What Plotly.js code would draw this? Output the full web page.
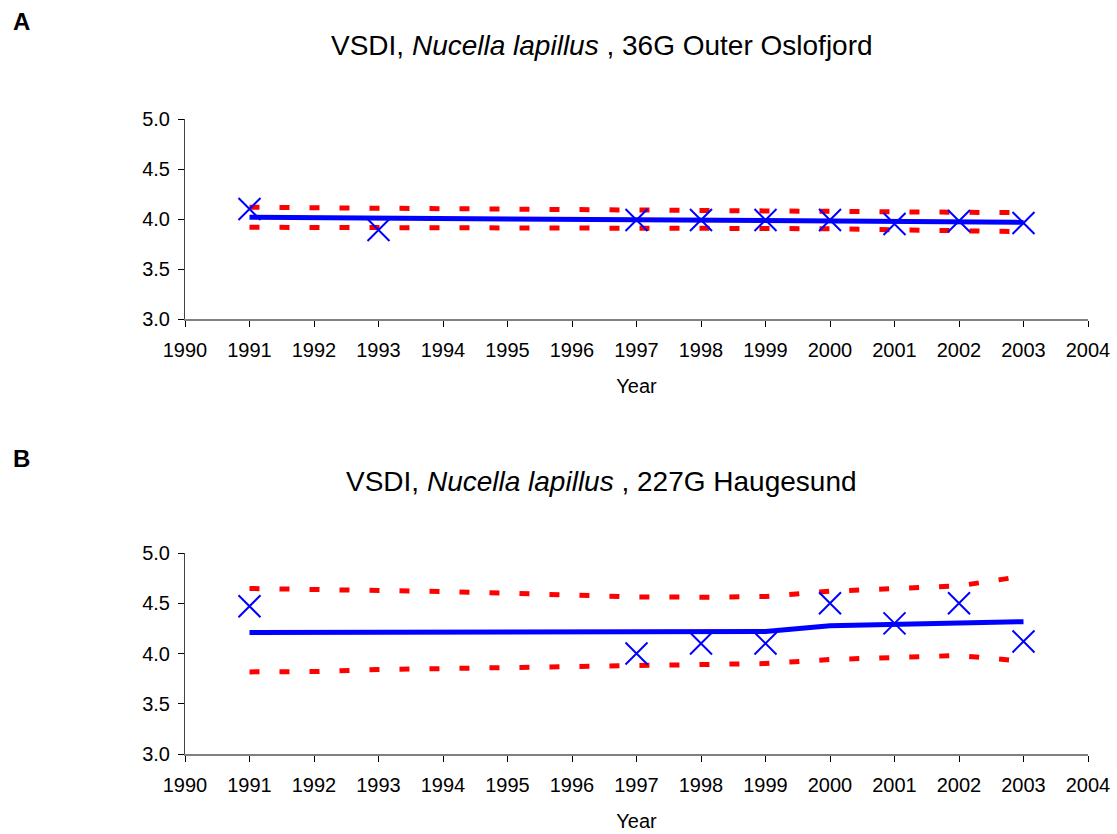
<!DOCTYPE html>
<html>
<head>
<meta charset="utf-8">
<script src="https://cdn.plot.ly/plotly-3.0.1.min.js"></script>
<style>html,body{margin:0;padding:0;background:#fff;}#chart{width:1117px;height:834px;}</style>
</head>
<body>
<div id="chart"></div>
<script>
// Panel A: 36G Outer Oslofjord
const yearsAll = [1991,1992,1993,1994,1995,1996,1997,1998,1999,2000,2001,2002,2003];
const obsYearsA = [1991,1993,1997,1998,1999,2000,2001,2002,2003];
const obsA = [4.10,3.89,3.99,3.99,3.99,3.99,3.95,3.98,3.96];
const trendA = [4.017,4.013,4.008,4.004,4.000,3.996,3.992,3.988,3.984,3.980,3.976,3.971,3.967];
const upperA = [4.117,4.113,4.108,4.104,4.100,4.096,4.092,4.088,4.084,4.080,4.074,4.068,4.063];
const lowerA = [3.917,3.917,3.916,3.915,3.914,3.913,3.912,3.908,3.905,3.902,3.895,3.885,3.873];

// Panel B: 227G Haugesund
const obsYearsB = [1991,1997,1998,1999,2000,2001,2002,2003];
const obsB = [4.47,4.00,4.10,4.10,4.50,4.30,4.50,4.12];
const trendB = [4.21,4.21,4.21,4.21,4.21,4.21,4.21,4.212,4.22,4.275,4.29,4.31,4.317];
const upperB = [4.647,4.640,4.630,4.617,4.600,4.583,4.563,4.560,4.567,4.620,4.647,4.673,4.770];
const lowerB = [3.817,3.820,3.840,3.850,3.857,3.870,3.880,3.883,3.900,3.940,3.957,3.980,3.923];

const xTicks = [1990,1991,1992,1993,1994,1995,1996,1997,1998,1999,2000,2001,2002,2003,2004];
const yTicks = [3.0,3.5,4.0,4.5,5.0];

const blue = '#0000FF', red = '#FF0000';
const FONT = 'Liberation Sans, Arial, sans-serif';

function band(x, y, xa, ya) {
  return {x:x, y:y, xaxis:xa, yaxis:ya, mode:'lines', type:'scatter',
    line:{color:red, width:5, dash:'10px,20px'}, hoverinfo:'skip', showlegend:false};
}
function trend(x, y, xa, ya) {
  return {x:x, y:y, xaxis:xa, yaxis:ya, mode:'lines', type:'scatter',
    line:{color:blue, width:5}, showlegend:false};
}
function obs(x, y, xa, ya) {
  return {x:x, y:y, xaxis:xa, yaxis:ya, mode:'markers', type:'scatter',
    marker:{symbol:'x-thin-open', size:22, color:blue, line:{color:blue, width:2}}, showlegend:false};
}

const data = [
  band(yearsAll, upperA, 'x', 'y'), band(yearsAll, lowerA, 'x', 'y'),
  trend(yearsAll, trendA, 'x', 'y'), obs(obsYearsA, obsA, 'x', 'y'),
  band(yearsAll, upperB, 'x2', 'y2'), band(yearsAll, lowerB, 'x2', 'y2'),
  trend(yearsAll, trendB, 'x2', 'y2'), obs(obsYearsB, obsB, 'x2', 'y2')
];

function xax(anchor, dom) {
  return {domain:dom, anchor:anchor, range:[1990,2004], tickmode:'array', tickvals:xTicks,
    ticktext:xTicks.map(String), ticks:'outside', ticklen:6, tickcolor:'#000', tickwidth:1,
    ticklabelstandoff:6,
    showline:true, linecolor:'#808080', linewidth:2, showgrid:false, zeroline:false,
    tickfont:{family:FONT, size:20, color:'#000'},
    title:{text:'Year', font:{family:FONT, size:20, color:'#000'}, standoff:19}};
}
function yax(anchor, dom) {
  return {domain:dom, anchor:anchor, range:[3,5], tickmode:'array', tickvals:yTicks,
    ticktext:yTicks.map(v=>v.toFixed(1)), ticks:'outside', ticklen:6, tickcolor:'#000', tickwidth:1,
    ticklabelstandoff:4,
    showline:true, linecolor:'#444', linewidth:1, showgrid:false, zeroline:false,
    tickfont:{family:FONT, size:20, color:'#000'}};
}

const xd = [185/1117, 1088/1117];
const layout = {
  width:1117, height:834, margin:{l:0, r:0, t:0, b:0},
  paper_bgcolor:'#fff', plot_bgcolor:'#fff', showlegend:false,
  xaxis: xax('y', xd),
  yaxis: yax('x', [1-319/834, 1-119/834]),
  xaxis2: xax('y2', xd),
  yaxis2: yax('x2', [1-754/834, 1-553/834]),
  annotations: [
    {text:'<b>A</b>', x:11/1117, y:1-22/834, xref:'paper', yref:'paper', xanchor:'left', yanchor:'middle', showarrow:false, font:{family:FONT, size:24, color:'#000'}},
    {text:'<b>B</b>', x:11/1117, y:1-458/834, xref:'paper', yref:'paper', xanchor:'left', yanchor:'middle', showarrow:false, font:{family:FONT, size:24, color:'#000'}},
    {text:'VSDI, <i>Nucella lapillus</i> , 36G Outer Oslofjord', x:602/1117, y:1-46/834, xref:'paper', yref:'paper', xanchor:'center', yanchor:'middle', showarrow:false, font:{family:FONT, size:28, color:'#000'}},
    {text:'VSDI, <i>Nucella lapillus</i> , 227G Haugesund', x:602/1117, y:1-482/834, xref:'paper', yref:'paper', xanchor:'center', yanchor:'middle', showarrow:false, font:{family:FONT, size:28, color:'#000'}}
  ]
};

Plotly.newPlot('chart', data, layout, {displayModeBar:false, staticPlot:true});
</script>
</body>
</html>
